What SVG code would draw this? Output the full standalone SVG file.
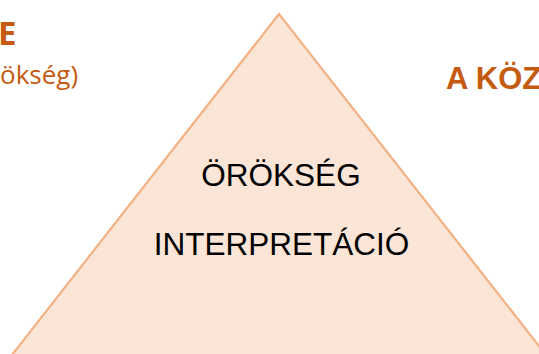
<svg xmlns="http://www.w3.org/2000/svg" width="539" height="354" viewBox="0 0 539 354">
  <style>
    .side { fill: #C55A11; font-family: "Open Sans", "Liberation Sans", sans-serif; }
    .head { fill: #C55A11; font-family: "Liberation Sans", Arial, sans-serif; font-weight: bold; }
    .core { fill: #000000; font-family: "Liberation Sans", Arial, sans-serif; font-size: 31.5px; text-anchor: middle; }
  </style>
  <rect width="539" height="354" fill="#ffffff"/>

  <!-- side headings -->
  <g id="left-heading">
    <text class="side" x="-2" y="45" font-size="33" font-weight="bold">E</text>
    <text class="side" x="0" y="84" font-size="26">ökség)</text>
  </g>
  <g id="right-heading">
    <text class="head" x="446" y="89" font-size="31">A KÖZ</text>
  </g>

  <!-- pyramid -->
  <g id="pyramid">
    <polygon points="279,14 8,360 550,360" fill="#FBE5D6" stroke="#F4B183" stroke-width="2.2" stroke-linejoin="miter"/>
    <text class="core" x="281" y="186">ÖRÖKSÉG</text>
    <text class="core" x="281.5" y="255">INTERPRETÁCIÓ</text>
  </g>
</svg>
